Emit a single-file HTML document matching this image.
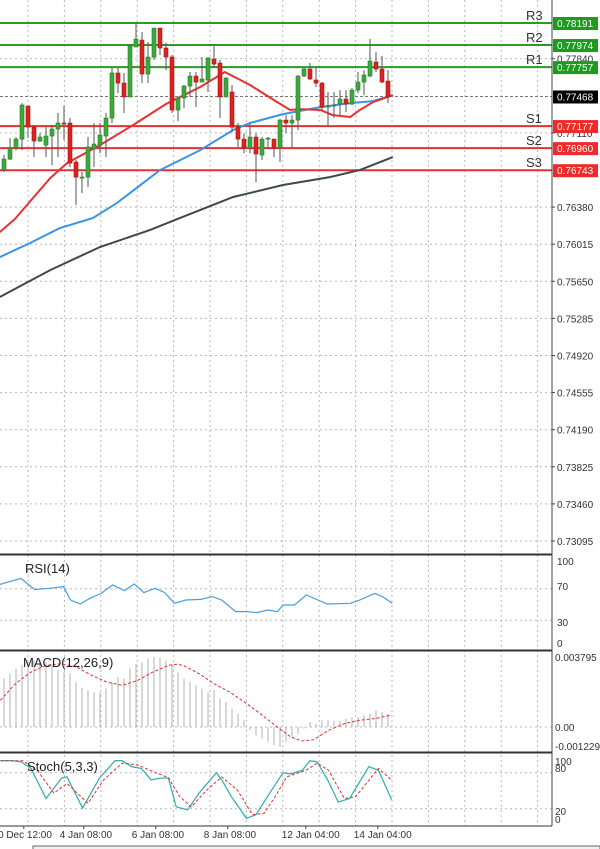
<!DOCTYPE html>
<html><head><meta charset="utf-8"><style>
html,body{margin:0;padding:0;background:#fff;overflow:hidden;}
svg{display:block;font-family:"Liberation Sans",sans-serif;}
</style></head><body>
<svg id="chart" width="600" height="849" xmlns="http://www.w3.org/2000/svg">
<rect x="0" y="0" width="600" height="849" fill="#fff"/>
<g id="grid"></g>
<g id="main"></g>
<g id="ind"></g>
<g id="axes"></g>
</svg>
<script>
// ---- price data (candles) ----
const opens  =[0.76744,0.76852,0.76961,0.77049,0.77374,0.77167,0.77030,0.76990,0.77079,0.77148,0.77207,0.77207,0.76823,0.76675,0.76675,0.76951,0.76990,0.77079,0.77256,0.77699,0.77600,0.77463,0.77955,0.78023,0.77689,0.77856,0.78141,0.77945,0.77856,0.77335,0.77453,0.77571,0.77669,0.77610,0.77630,0.77836,0.77797,0.77463,0.77512,0.77167,0.77049,0.76961,0.77069,0.76892,0.77059,0.77049,0.76961,0.77236,0.77207,0.77236,0.77669,0.77738,0.77630,0.77600,0.77374,0.77384,0.77394,0.77443,0.77394,0.77531,0.77610,0.77669,0.77807,0.77738,0.77620];
const highs  =[0.76892,0.77059,0.77069,0.77403,0.77374,0.77187,0.77108,0.77167,0.77187,0.77305,0.77374,0.77256,0.76843,0.76725,0.77069,0.77207,0.77207,0.77305,0.77748,0.77748,0.77699,0.77974,0.78201,0.78102,0.78004,0.78141,0.78141,0.77994,0.77876,0.77463,0.77581,0.77709,0.77709,0.77856,0.77856,0.77964,0.77827,0.77659,0.77581,0.77207,0.77108,0.77207,0.77108,0.77069,0.77069,0.77049,0.77246,0.77285,0.77285,0.77679,0.77758,0.77797,0.77758,0.77610,0.77512,0.77512,0.77531,0.77531,0.77551,0.77709,0.77728,0.78033,0.77905,0.77866,0.77728];
const lows   =[0.76725,0.76843,0.76941,0.76941,0.77059,0.76872,0.77020,0.76872,0.76793,0.76872,0.77039,0.76774,0.76400,0.76518,0.76577,0.76774,0.76911,0.76872,0.77207,0.77502,0.77305,0.77463,0.77955,0.77600,0.77600,0.77827,0.77876,0.77728,0.77305,0.77226,0.77354,0.77463,0.77364,0.77610,0.77512,0.77758,0.77256,0.77463,0.77118,0.76971,0.76911,0.76911,0.76626,0.76843,0.76951,0.76872,0.76823,0.77108,0.76961,0.77138,0.77659,0.77630,0.77561,0.77335,0.77187,0.77256,0.77285,0.77315,0.77384,0.77502,0.77482,0.77659,0.77709,0.77600,0.77403];
const closes =[0.76852,0.76961,0.77049,0.77384,0.77167,0.77030,0.77069,0.77079,0.77148,0.77207,0.77197,0.76813,0.76675,0.76675,0.76971,0.77000,0.77089,0.77256,0.77699,0.77600,0.77463,0.77964,0.78033,0.77689,0.77856,0.78141,0.77945,0.77856,0.77335,0.77453,0.77571,0.77669,0.77610,0.77640,0.77846,0.77787,0.77463,0.77649,0.77167,0.77049,0.76961,0.77069,0.76902,0.77049,0.77059,0.76961,0.77236,0.77207,0.77236,0.77669,0.77738,0.77640,0.77600,0.77364,0.77374,0.77384,0.77443,0.77394,0.77531,0.77610,0.77679,0.77817,0.77738,0.77610,0.77463];
// moving averages (candle index, price)
const ma1Idx=[-0.7,1.8,7.7,10.5,16,21.5,27,32.7,36.8,41,45,47.7,49.3,52.7,54.8,57.7,59.3,61.5,64.8];
const ma1Val=[0.76134,0.76262,0.76665,0.76813,0.76990,0.77187,0.77394,0.77561,0.77709,0.77581,0.77433,0.77335,0.77344,0.77335,0.77285,0.77266,0.77335,0.77413,0.77482];
const ma2Idx=[-0.7,4.3,9.3,14.8,18.8,26,32.7,38.2,41,46.5,52.7,57.7,61.5,64.8];
const ma2Val=[0.75888,0.76026,0.76173,0.76272,0.76419,0.76744,0.76941,0.77138,0.77207,0.77295,0.77364,0.77403,0.77423,0.77482];
const ma3Idx=[-0.7,7.7,16,24.3,29.3,38.2,46.5,54.3,59.3,64.8];
const ma3Val=[0.75495,0.75760,0.75987,0.76154,0.76272,0.76479,0.76597,0.76675,0.76744,0.76872];
// pivot levels
const levelNames=["R3","R2","R1","S1","S2","S3"];
const levelVals=[0.78191,0.77974,0.77757,0.77177,0.76960,0.76743];
const lastPrice=0.77468;
const priceTicks=[0.77840,0.77110,0.76380,0.76015,0.75650,0.75285,0.74920,0.74555,0.74190,0.73825,0.73460,0.73095];
// RSI
const rsiIdx=[-0.7,2.8,5.1,7.6,9.9,11.1,12.7,14.3,16.2,18.1,20.1,21.7,23.3,25.2,26.8,28.4,30.3,32.8,34.7,36.3,38.6,40.5,42.1,44,45.6,46.5,48.4,50.4,52.3,53.9,57.7,59.3,61.8,63.1,64.7];
const rsiVal=[75.5,83,69,70.5,72.5,55.7,50.6,57.8,64,74.7,67.5,76,65,70.5,65,51.5,55.7,56.5,60,55.7,41,41,39.7,43,41,49.4,49.4,62,55.7,50.6,51.5,55.7,64,60,51.5];
// MACD
const macdHist=[0.00266,0.00293,0.00321,0.00339,0.00357,0.00367,0.00367,0.00357,0.00339,0.00312,0.00302,0.00293,0.00247,0.00216,0.00202,0.00192,0.00192,0.00211,0.00247,0.00275,0.00266,0.00321,0.00348,0.00357,0.00376,0.00385,0.00381,0.00367,0.00348,0.00302,0.00266,0.00247,0.00229,0.00211,0.00192,0.00202,0.00156,0.00137,0.00101,0.00073,0.00037,-0.00018,-0.00046,-0.00064,-0.00082,-0.00101,-0.00110,-0.00082,-0.00055,-0.00037,-0.00009,0.00027,0.00018,0.00037,0.00037,0.00033,0.00033,0.00046,0.00055,0.00055,0.00064,0.00073,0.00092,0.00082,0.00073];
const sigIdx=[-0.6,1.9,4.5,7,9.6,12.1,14.6,17.2,19.7,22.3,24.8,27.4,28.7,29.9,32.5,35,37.6,40.1,42.7,45.2,47.8,49.7,51.6,54.1,56.7,59.2,61.8,64.3];
const sigVal=[0.00147,0.00238,0.00302,0.00339,0.00348,0.00330,0.00284,0.00247,0.00229,0.00257,0.00302,0.00339,0.00345,0.00339,0.00293,0.00238,0.00192,0.00137,0.00073,0.00009,-0.00055,-0.00077,-0.00070,-0.00018,0.00018,0.00037,0.00046,0.00064];
// Stochastic
const kIdx=[-0.6,1.3,2.9,4.5,7,9.6,10.5,13.1,15.9,18.5,19.7,21.3,22.9,24.5,26.1,27.4,28.7,30.6,32.5,35.4,36.3,37.9,40.4,42,43.9,46.5,47.8,49.7,51,52.2,54.1,55.7,57.6,60.8,62.4,64.6];
const kVal=[100,100,98,87,37,71,73,21,71,100,100,90,87,68,71,71,23,18,46,80,68,40,4,10,40,80,78,84,100,98,65,31,37,90,84,35];
const dIdx=[-0.6,3.2,5.7,8.3,10.5,14,16.6,19.7,22.3,25.5,27.4,29.3,31.2,33.8,36.3,38.9,41.4,43.3,45.2,47.1,50.3,52.2,54.1,56.7,58.6,62.4,64.6];
const dVal=[100,100,82,46,62,29,68,96,93,79,72,40,23,51,73,51,10,12,40,73,84,96,84,37,40,87,68];
const timeLabels=["0 Dec 12:00","4 Jan 08:00","6 Jan 08:00","8 Jan 08:00","12 Jan 04:00","14 Jan 04:00"];
const timeIdx=[3.3,13.3,25.3,37.3,50.3,62.3];

const NS="http://www.w3.org/2000/svg";
function mk(p,tag,at){const e=document.createElementNS(NS,tag);for(const k in at)e.setAttribute(k,at[k]);p.appendChild(e);return e;}
const xOf=i=>4+6*i;
const yP=p=>23+(0.78191-p)*10165;
const yRsi=v=>644-v*0.79;
const yMacd=v=>727-v*18180;
const yStoch=v=>820.7-v*0.6;
const PR=552;
const grid=document.getElementById('grid'),main=document.getElementById('main'),ind=document.getElementById('ind'),axes=document.getElementById('axes');

// vertical grid
for(let x=28;x<PR;x+=36.4){
  const l=mk(grid,'line',{x1:x,y1:0,x2:x,y2:826,stroke:'#b8b8b8','stroke-dasharray':'2,3','stroke-width':1});
  
  
}
// horizontal grid main
priceTicks.forEach(p=>{
  const l=mk(grid,'line',{x1:0,y1:yP(p),x2:PR,y2:yP(p),stroke:'#b8b8b8','stroke-dasharray':'2,3'});
  
  
});
[[yRsi(70)],[yRsi(30)],[yMacd(0)],[yStoch(80)],[yStoch(20)]].forEach(a=>{
  const l=mk(grid,'line',{x1:0,y1:a[0],x2:PR,y2:a[0],stroke:'#b8b8b8','stroke-dasharray':'2,3'});
  
  
});

// last price line
const lp=mk(main,'line',{x1:0,y1:yP(lastPrice),x2:PR,y2:yP(lastPrice),stroke:'#777','stroke-dasharray':'3,2'});



// levels
levelVals.forEach((v,k)=>{
  const col=k<3?'#2b9a2b':'#e43030';
  const l=mk(main,'line',{x1:0,y1:yP(v),x2:PR,y2:yP(v),stroke:col,'stroke-width':2});
  
  
  const t=mk(main,'text',{x:526,y:yP(v)-3,'font-size':13,fill:'#333'});
  t.textContent=levelNames[k];
  
  
});

function poly(parent,idx,val,yf,attrs,name){
  const pts=idx.map((i,k)=>xOf(i).toFixed(1)+','+yf(val[k]).toFixed(1)).join(' ');
  const e=mk(parent,'polyline',Object.assign({points:pts,fill:'none'},attrs));
  
  
}
poly(main,ma3Idx,ma3Val,yP,{stroke:'#3c4a48','stroke-width':2},'ma-slow-line');
poly(main,ma2Idx,ma2Val,yP,{stroke:'#3a94e8','stroke-width':2},'ma-medium-line');
poly(main,ma1Idx,ma1Val,yP,{stroke:'#e83030','stroke-width':2},'ma-fast-line');

// candles
opens.forEach((o,i)=>{
  const c=closes[i],x=xOf(i),up=c>=o;
  const w=mk(main,'line',{x1:x,y1:yP(highs[i]),x2:x,y2:yP(lows[i]),stroke:'#555','stroke-width':1});
  
  
  const top=Math.min(yP(o),yP(c)),h=Math.max(1,Math.abs(yP(o)-yP(c)));
  const b=mk(main,'rect',{x:x-2,y:top,width:4,height:h,fill:up?'#3aaa3a':'#dd2222',stroke:up?'#2a7a2a':'#a01818','stroke-width':0.6});
  
  
});

// RSI
poly(ind,rsiIdx,rsiVal,yRsi,{stroke:'#4a9ee0','stroke-width':1.2},'rsi-line');
// MACD histogram
macdHist.forEach((v,i)=>{
  const b=mk(ind,'line',{x1:xOf(i),y1:yMacd(0),x2:xOf(i),y2:yMacd(v),stroke:'#b0b0b0','stroke-width':1});
  
  
});
poly(ind,sigIdx,sigVal,yMacd,{stroke:'#e03030','stroke-width':1,'stroke-dasharray':'3,2'},'macd-signal-line');
// Stoch
poly(ind,kIdx,kVal,yStoch,{stroke:'#3cb0b0','stroke-width':1.3},'stoch-k-line');
poly(ind,dIdx,dVal,yStoch,{stroke:'#e03030','stroke-width':1,'stroke-dasharray':'3,2'},'stoch-d-line');

// panel frames
[[554,555],[650,651],[752,753],[826,826]].forEach(a=>{
  a.forEach(y=>{const l=mk(axes,'line',{x1:0,y1:y,x2:PR,y2:y,stroke:'#333','stroke-width':1});
  
  });
});
const ax=mk(axes,'line',{x1:PR,y1:0,x2:PR,y2:826,stroke:'#444','stroke-width':1});



function label(x,y,txt,name,fill,size){
  const t=mk(axes,'text',{x:x,y:y,'font-size':size||10,fill:fill||'#333'});
  t.textContent=txt;
  
  
  return t;
}
priceTicks.forEach(p=>{
  mk(axes,'line',{x1:PR,y1:yP(p),x2:PR+3,y2:yP(p),stroke:'#444'});
  label(557,yP(p)+4,p.toFixed(5),'price-tick-label');
});
levelVals.forEach((v,k)=>{
  const r=mk(axes,'rect',{x:553,y:yP(v)-6,width:45,height:13,fill:k<3?'#1e9a1e':'#ee2a2a'});
  
  
  label(557,yP(v)+4,v.toFixed(5),'level-price-text','#fff');
});
const lr=mk(axes,'rect',{x:553,y:yP(lastPrice)-6,width:45,height:13,fill:'#000'});


label(557,yP(lastPrice)+4,lastPrice.toFixed(5),'last-price-text','#fff');

// indicator axes
[["100",565],["70",590],["30",626],["0",647]].forEach(a=>label(557,a[1],a[0],'rsi-tick-label'));
[["0.003795",661],["0.00",731],["-0.001229",750]].forEach(a=>label(555,a[1],a[0],'macd-tick-label'));
[["100",765],["80",772],["20",815],["0",823]].forEach(a=>label(555,a[1],a[0],'stoch-tick-label'));
label(25,573,'RSI(14)','rsi-title','#222',13);
label(23,667,'MACD(12,26,9)','macd-title','#222',13);
label(27,771,'Stoch(5,3,3)','stoch-title','#222',13);
timeLabels.forEach((t,k)=>{
  const x=xOf(timeIdx[k]);
  mk(axes,'line',{x1:x,y1:826,x2:x,y2:829,stroke:'#444'});
  label(k===0?-2:x-24,838,t,'time-axis-label');
});
const bb=mk(axes,'rect',{x:33,y:846,width:567,height:4,fill:'#f0f0f0',stroke:'#666'});


</script>
</body></html>
